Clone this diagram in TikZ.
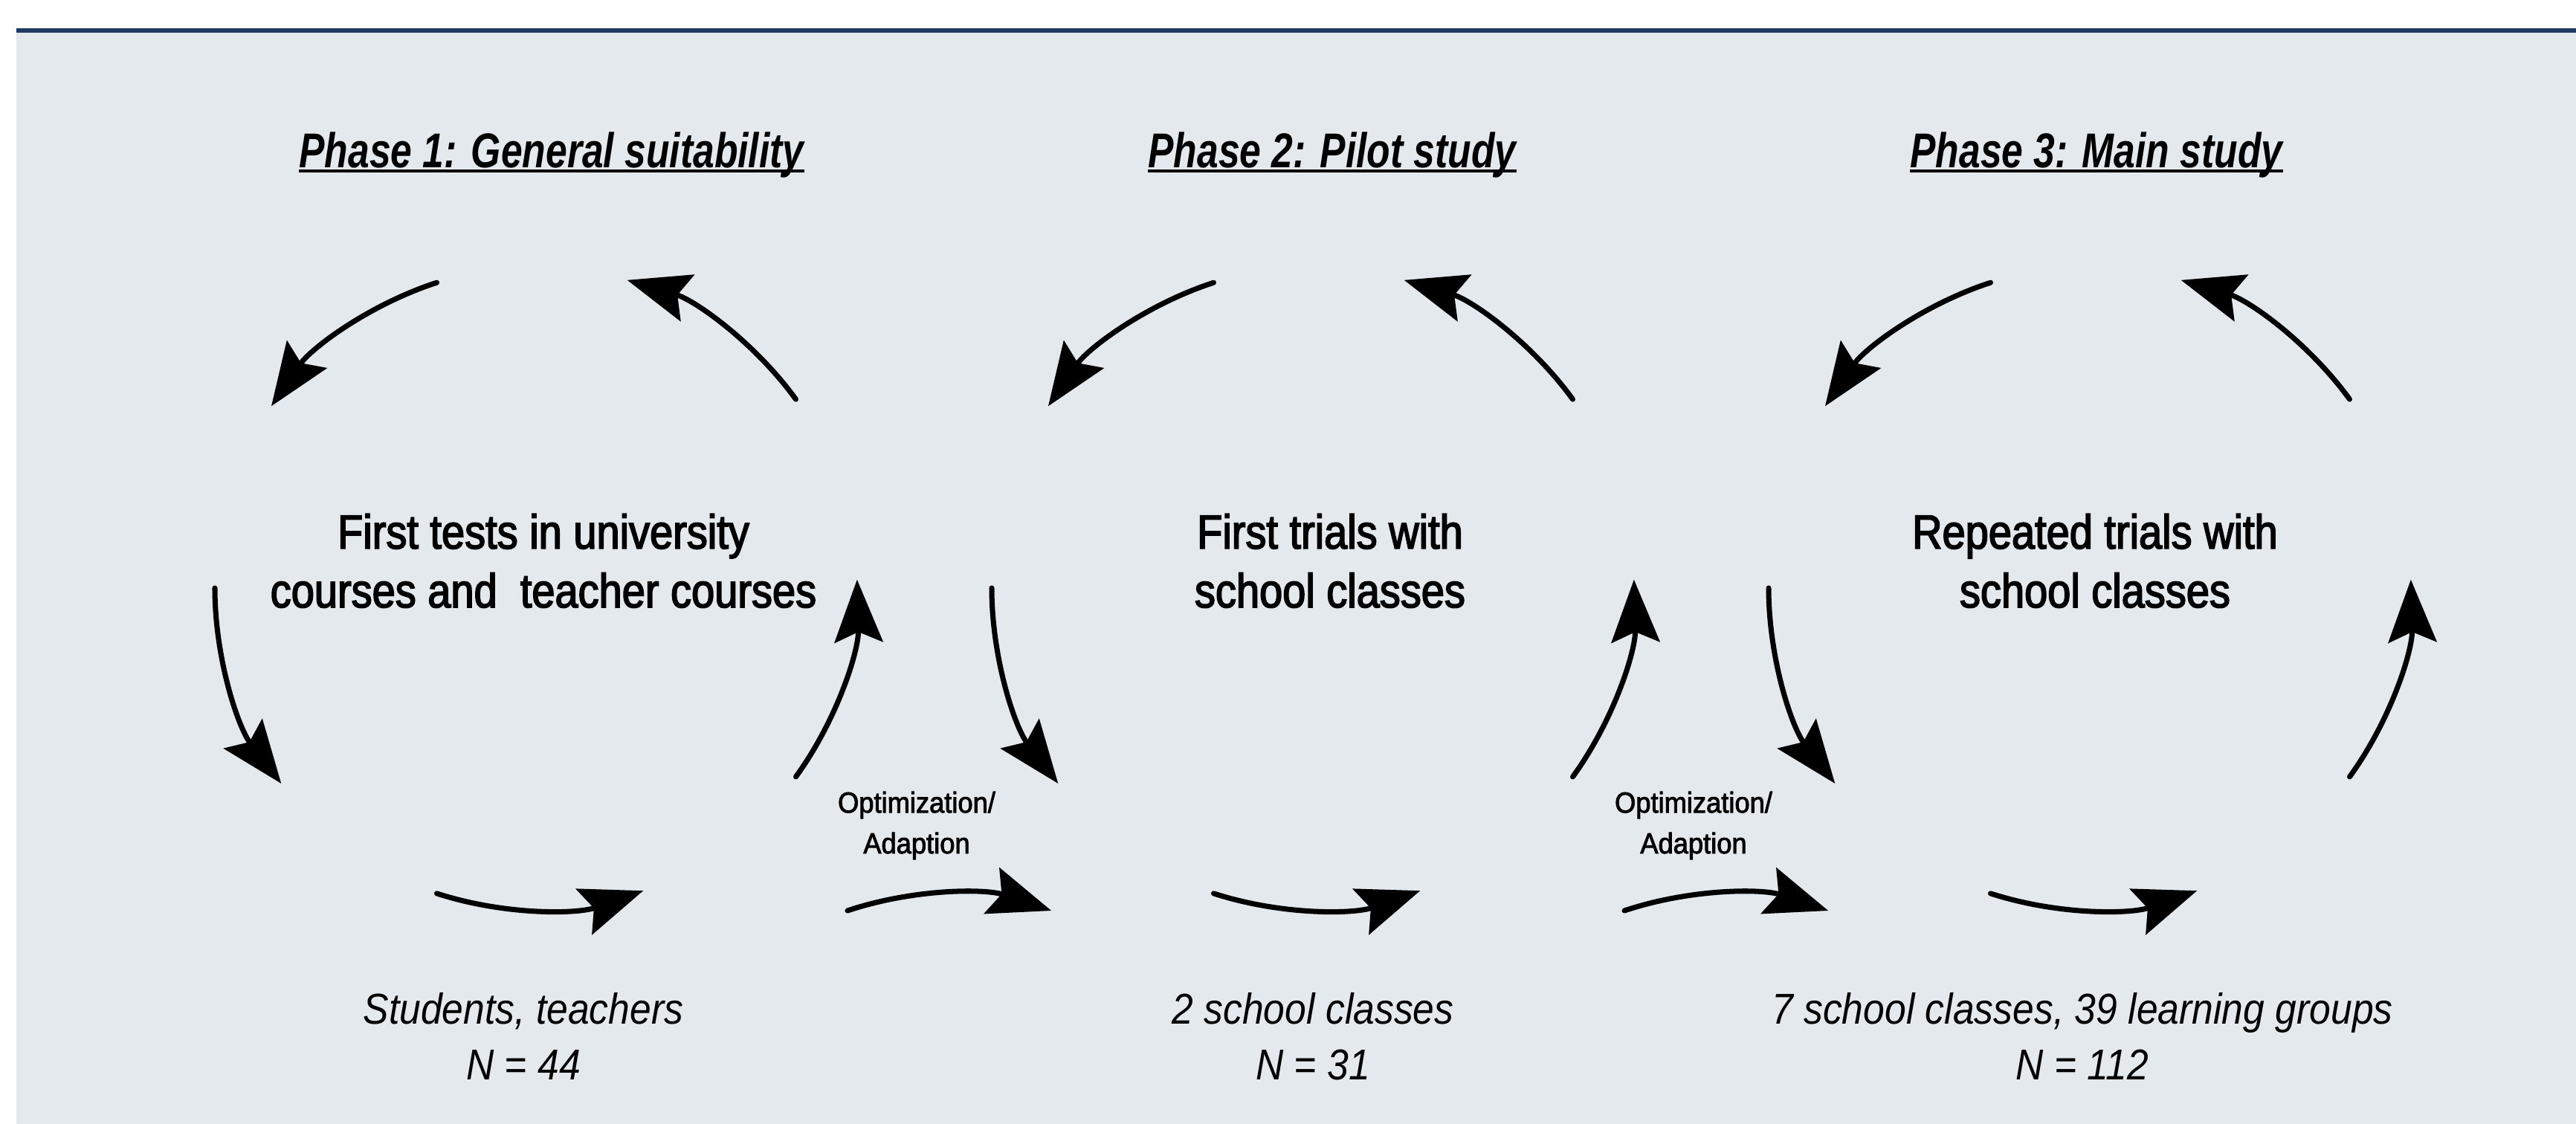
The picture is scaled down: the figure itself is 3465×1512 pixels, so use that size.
\documentclass[tikz,border=0pt]{standalone}
\usepackage{fontspec}
\setmainfont[FakeStretch=0.87, FakeBold=2.6]{Liberation Sans}
\newfontfamily\phasefont[FakeStretch=0.785]{Liberation Sans}
\newfontfamily\samplefont[FakeStretch=0.89]{Liberation Sans}
\newfontfamily\adaptfont[FakeStretch=0.93, FakeBold=2.2]{Liberation Sans}
\usetikzlibrary{arrows.meta, positioning}
\definecolor{panelbg}{HTML}{E4E9EE}
\definecolor{navyline}{HTML}{1E3A62}

\begin{document}
\begin{tikzpicture}[x=0.01cm, y=0.01cm,
    loop arrow/.style={line width=2pt, line cap=round, -{Stealth[length=24pt, width=18.5pt, inset=4pt]}},
    phase title/.style={inner sep=0pt, anchor=base, font=\phasefont\bfseries\itshape\fontsize{18.7}{22}\selectfont},
    step text/.style={inner sep=0pt, anchor=base, align=center, font=\fontsize{18.3}{22.5}\selectfont},
    sample text/.style={inner sep=0pt, anchor=base, align=center, font=\samplefont\itshape\fontsize{16.5}{21.1}\selectfont},
    adapt text/.style={inner sep=0pt, anchor=base, align=center, font=\adaptfont\fontsize{11.1}{15.6}\selectfont}]
    \useasboundingbox (0,0) rectangle (3465,-1512);
    \fill[panelbg] (22,-41) rectangle (3465,-1512);
    \fill[navyline] (22,-38) rectangle (3465,-44);

    \node[phase title] (ph1) at (742,-225) {Phase 1: General suitability};
    \node[phase title] (ph2) at (1792,-225) {Phase 2: Pilot study};
    \node[phase title] (ph3) at (2820,-225) {Phase 3: Main study};
    \foreach \p in {ph1,ph2,ph3}
        \draw[line width=1.2pt] ([yshift=-1.4pt]\p.base west) -- ([yshift=-1.4pt]\p.base east);

    \coordinate (c1) at (721,-791);
    \coordinate (c2) at (1766,-791);
    \coordinate (c3) at (2811,-791);
    \foreach \c in {c1,c2,c3}
        \foreach \a in {36,108,180,252,324}
            \draw[loop arrow] (\c) ++(\a:432) arc[start angle=\a, end angle=\a+37.5, radius=432];

    % base anchor sits on the last line
    \node[step text] (step1) at (731,-817) {First tests in university\\courses and~~teacher courses};
    \node[step text] (step2) at (1789,-817) {First trials with\\school classes};
    \node[step text] (step3) at (2818,-817) {Repeated trials with\\school classes};

    \coordinate (opt1) at (1140,-1225);
    \coordinate (opt2) at (2185,-1225);
    \draw[loop arrow] (opt1) arc[start angle=108.5, end angle=71.5, radius=432];
    \draw[loop arrow] (opt2) arc[start angle=108.5, end angle=71.5, radius=432];
    \node[adapt text] (adapt1) at (1233,-1148) {Optimization/\\Adaption};
    \node[adapt text] (adapt2) at (2278,-1148) {Optimization/\\Adaption};

    \node[sample text] (n1) at (704,-1452) {Students, teachers\\N = 44};
    \node[sample text] (n2) at (1766,-1452) {2 school classes\\N = 31};
    \node[sample text] (n3) at (2801,-1452) {7 school classes, 39 learning groups\\N = 112};
\end{tikzpicture}
\end{document}
